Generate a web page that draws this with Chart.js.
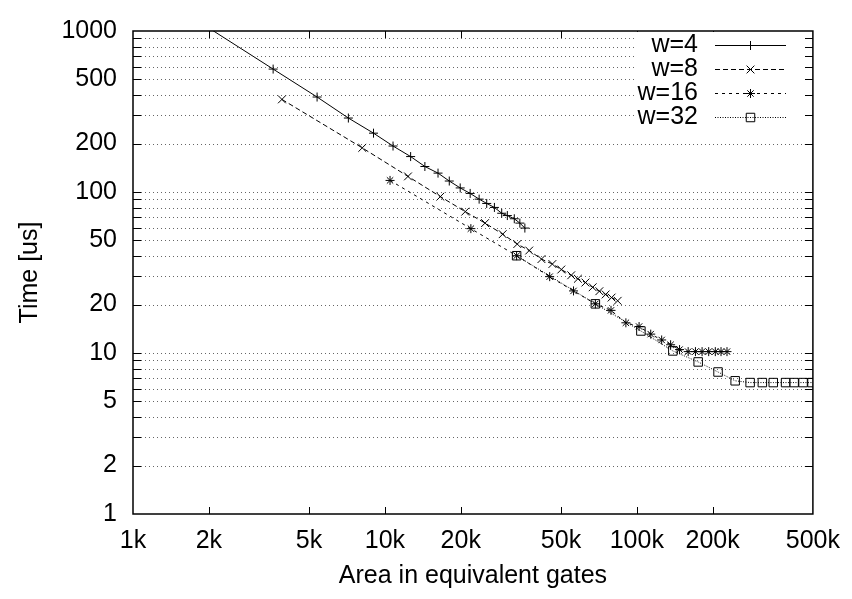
<!DOCTYPE html>
<html lang="en">
<head>
<meta charset="UTF-8">
<title>Time vs area</title>
<script src="https://cdn.jsdelivr.net/npm/chart.js"></script>
<style>
  body { margin: 0; background: #fff; }
</style>
</head>
<body>
<canvas id="timeChart" width="852" height="599"></canvas>
<script>
// values: area in equivalent gates, time in us
const areaW4 = [1800, 3600, 5380, 7160, 9010, 10770, 12650, 14410, 16250, 18010, 19900, 21800, 23660, 25360, 27210, 29080, 30620, 32630, 34330, 35940];
const timeW4 = [1160, 580, 389, 288, 232, 193, 166, 144, 131, 117, 106, 98, 90.3, 84.9, 80.2, 73.8, 71.4, 68.2, 64.1, 59.7];

const areaW8 = [3900, 8130, 12350, 16600, 20840, 24980, 29350, 33530, 37400, 41820, 46220, 50140, 54910, 58350, 62530, 66800, 71000, 75200, 79400, 83940];
const timeW8 = [376, 188, 125, 93.6, 75.5, 64.1, 54.7, 47.5, 43.3, 38.3, 35.7, 33.0, 30.4, 28.9, 27.4, 25.6, 24.2, 23.1, 22.1, 21.1];

const areaW16 = [10480, 21940, 33330, 45090, 56070, 68460, 78980, 90490, 102100, 113550, 125500, 136200, 147800, 159900, 170900, 181600, 192900, 204900, 215900, 228000];
const timeW16 = [118, 59.2, 40.2, 29.8, 24.3, 20.2, 18.4, 15.4, 14.6, 13.1, 12.05, 11.25, 10.5, 10.2, 10.2, 10.2, 10.2, 10.2, 10.2, 10.2];

const areaW32 = [33330, 68460, 103800, 139000, 175200, 210100, 245700, 281700, 315000, 348000, 389500, 421200, 457000, 496100];
const timeW32 = [40.2, 20.2, 13.7, 10.3, 8.8, 7.62, 6.72, 6.55, 6.55, 6.55, 6.55, 6.55, 6.55, 6.55];

const seriesNames = ['w=4', 'w=8', 'w=16', 'w=32'];

const xTickValues = [1000, 2000, 5000, 10000, 20000, 50000, 100000, 200000, 500000];
const xTickLabels = ['1k', '2k', '5k', '10k', '20k', '50k', '100k', '200k', '500k'];
const yTickValues = [1, 2, 5, 10, 20, 50, 100, 200, 500, 1000];
const yTickLabels = ['1', '2', '5', '10', '20', '50', '100', '200', '500', '1000'];
const yGridValues = [2, 3, 4, 5, 6, 7, 8, 9, 10, 20, 30, 40, 50, 60, 70, 80, 90, 100, 200, 300, 400, 500, 600, 700, 800, 900];

function points(xs, ys) {
    return xs.map((v, i) => ({ x: v, y: ys[i] }));
}

Chart.defaults.font.family = '"Liberation Sans", Arial, Helvetica, sans-serif';
Chart.defaults.font.size = 25;
Chart.defaults.color = '#000';

// gnuplot-like frame: dotted horizontal grid, inward ticks, opaque key
const framePlugin = {
    id: 'frame',
    beforeDatasetsDraw(chart) {
        const { ctx, chartArea: a, scales: { y } } = chart;
        ctx.save();
        ctx.strokeStyle = 'rgba(0,0,0,0.6)';
        ctx.lineWidth = 1;
        ctx.setLineDash([1, 3]);
        yGridValues.forEach(v => {
            const py = Math.round(y.getPixelForValue(v)) + 0.5;
            ctx.beginPath();
            ctx.moveTo(a.left, py);
            ctx.lineTo(a.right, py);
            ctx.stroke();
        });
        ctx.restore();
    },
    afterDraw(chart) {
        const { ctx, chartArea: a, scales: { x, y } } = chart;
        ctx.save();
        ctx.strokeStyle = '#000';
        ctx.lineWidth = 1;
        ctx.beginPath();
        yGridValues.forEach(v => {
            const py = Math.round(y.getPixelForValue(v)) + 0.5;
            ctx.moveTo(a.left, py); ctx.lineTo(a.left + 8, py);
            ctx.moveTo(a.right, py); ctx.lineTo(a.right - 8, py);
        });
        xTickValues.slice(1, -1).forEach(v => {
            const px = Math.round(x.getPixelForValue(v)) + 0.5;
            ctx.moveTo(px, a.bottom); ctx.lineTo(px, a.bottom - 7);
            ctx.moveTo(px, a.top); ctx.lineTo(px, a.top + 7);
        });
        ctx.stroke();

        // key
        const boxLeft = 635, boxRight = 805;
        ctx.fillStyle = '#fff';
        ctx.fillRect(boxLeft, a.top + 1, boxRight - boxLeft, 108);
        ctx.font = '25px "Liberation Sans", Arial, sans-serif';
        ctx.textAlign = 'right';
        ctx.textBaseline = 'middle';
        chart.data.datasets.forEach((ds, i) => {
            const cy = 45 + i * 24;
            ctx.fillStyle = '#000';
            ctx.fillText(ds.label, 698, cy);
            ctx.strokeStyle = ds.borderColor;
            ctx.lineWidth = ds.borderWidth;
            ctx.setLineDash(ds.borderDash || []);
            ctx.beginPath();
            ctx.moveTo(715, cy + 0.5);
            ctx.lineTo(786, cy + 0.5);
            ctx.stroke();
            ctx.setLineDash([]);
            ctx.fillStyle = 'rgba(0,0,0,0)';
            Chart.helpers.drawPoint(ctx, {
                pointStyle: ds.pointStyle, radius: ds.pointRadius, rotation: 0, borderWidth: 1
            }, 750.5, cy + 0.5);
        });

        ctx.strokeStyle = '#000';
        ctx.lineWidth = 1.5;
        ctx.strokeRect(a.left, a.top, a.right - a.left, a.bottom - a.top);
        ctx.restore();
    }
};

const style = (dash, pointStyle, radius) => ({
    borderColor: '#000',
    borderWidth: 1,
    borderDash: dash,
    pointStyle: pointStyle,
    pointRadius: radius,
    pointBorderColor: '#000',
    pointBackgroundColor: 'rgba(0,0,0,0)',
    pointBorderWidth: 1,
    fill: false,
    tension: 0
});

const ctx = document.getElementById('timeChart').getContext('2d');
const timeChart = new Chart(ctx, {
    type: 'line',
    data: {
        datasets: [
            { label: seriesNames[0], data: points(areaW4, timeW4), ...style([], 'cross', 4.5) },
            { label: seriesNames[1], data: points(areaW8, timeW8), ...style([5, 3], 'crossRot', 5.5) },
            { label: seriesNames[2], data: points(areaW16, timeW16), ...style([3, 4], 'star', 4.5) },
            { label: seriesNames[3], data: points(areaW32, timeW32), ...style([1, 1.5], 'rect', 6) }
        ]
    },
    options: {
        responsive: false,
        animation: false,
        layout: { padding: { top: 21, right: 34, left: 0, bottom: 0 } },
        plugins: {
            legend: { display: false },
            tooltip: { enabled: false }
        },
        scales: {
            x: {
                type: 'logarithmic',
                min: 1000,
                max: 500000,
                grid: { display: false, drawTicks: false },
                border: { display: false },
                afterBuildTicks: s => { s.ticks = xTickValues.map(v => ({ value: v })); },
                afterFit: s => { s.height = 85; },
                ticks: {
                    autoSkip: false,
                    maxRotation: 0,
                    padding: 12,
                    callback: v => xTickLabels[xTickValues.indexOf(v)] ?? ''
                },
                title: {
                    display: true,
                    text: 'Area in equivalent gates',
                    padding: { top: 0, bottom: 8 }
                }
            },
            y: {
                type: 'logarithmic',
                min: 1,
                max: 1000,
                grid: { display: false, drawTicks: false },
                border: { display: false },
                afterBuildTicks: s => { s.ticks = yTickValues.map(v => ({ value: v })); },
                afterFit: s => { s.width = 133; },
                ticks: {
                    autoSkip: false,
                    padding: 16,
                    callback: v => yTickLabels[yTickValues.indexOf(v)] ?? ''
                },
                title: {
                    display: true,
                    text: 'Time [us]',
                    padding: { top: 15, bottom: 0 }
                }
            }
        }
    },
    plugins: [framePlugin]
});
</script>
</body>
</html>
